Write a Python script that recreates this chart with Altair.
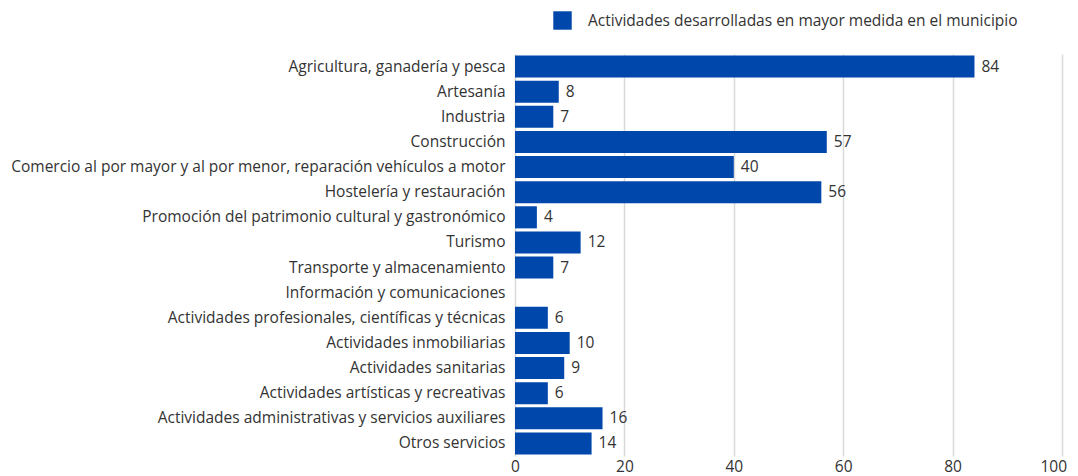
import altair as alt
import pandas as pd

categories = [
    "Agricultura, ganadería y pesca",
    "Artesanía",
    "Industria",
    "Construcción",
    "Comercio al por mayor y al por menor, reparación vehículos a motor",
    "Hostelería y restauración",
    "Promoción del patrimonio cultural y gastronómico",
    "Turismo",
    "Transporte y almacenamiento",
    "Información y comunicaciones",
    "Actividades profesionales, científicas y técnicas",
    "Actividades inmobiliarias",
    "Actividades sanitarias",
    "Actividades artísticas y recreativas",
    "Actividades administrativas y servicios auxiliares",
    "Otros servicios",
]
values = [84, 8, 7, 57, 40, 56, 4, 12, 7, None, 6, 10, 9, 6, 16, 14]
series_name = "Actividades desarrolladas en mayor medida en el municipio"
x_ticks = [0, 20, 40, 60, 80, 100]

df = pd.DataFrame({"cat": categories, "val": values, "serie": series_name})

FONT = "Open Sans"
FS = 15.5
BLUE = "#0047AB"
TXT = "#333333"

y_enc = alt.Y("cat:N", sort=categories, title=None,
              scale=alt.Scale(paddingInner=0.12, paddingOuter=0.06),
              axis=alt.Axis(labelFont=FONT, labelFontSize=FS, labelColor=TXT,
                            ticks=False, domain=False, labelPadding=10, labelLimit=600))
x_enc = alt.X("val:Q", title=None,
              scale=alt.Scale(domain=[0, 100], nice=False),
              axis=alt.Axis(values=x_ticks, labelFont=FONT, labelFontSize=FS,
                            labelColor=TXT, ticks=False, domain=False,
                            labelFlush=True, labelFlushOffset=4.5,
                            grid=True, gridColor="#d9d9d9", gridWidth=1.5,
                            labelPadding=3))

bars = alt.Chart(df).mark_bar(color=BLUE).encode(
    y=y_enc,
    x=x_enc,
    color=alt.Color("serie:N", scale=alt.Scale(range=[BLUE]),
                    legend=alt.Legend(title=None, orient="none", legendX=38, legendY=-43,
                                      symbolType="square", symbolSize=340,
                                      symbolStrokeWidth=0, labelFont=FONT,
                                      labelFontSize=FS, labelColor=TXT,
                                      labelOffset=16, padding=0, labelLimit=800)),
)

labels = alt.Chart(df).mark_text(align="left", baseline="middle", dx=7,
                                 font=FONT, fontSize=FS, color=TXT).encode(
    y=alt.Y("cat:N", sort=categories),
    x=alt.X("val:Q"),
    text=alt.Text("val:Q"),
)

chart = (bars + labels).properties(
    width=547, height=402,
    autosize=alt.AutoSizeParams(type="none"),
    padding={"left": 507, "top": 46, "right": 8, "bottom": 20},
).configure_view(stroke=None)

chart.save("out.html", embed_options={"renderer": "svg", "actions": False})
